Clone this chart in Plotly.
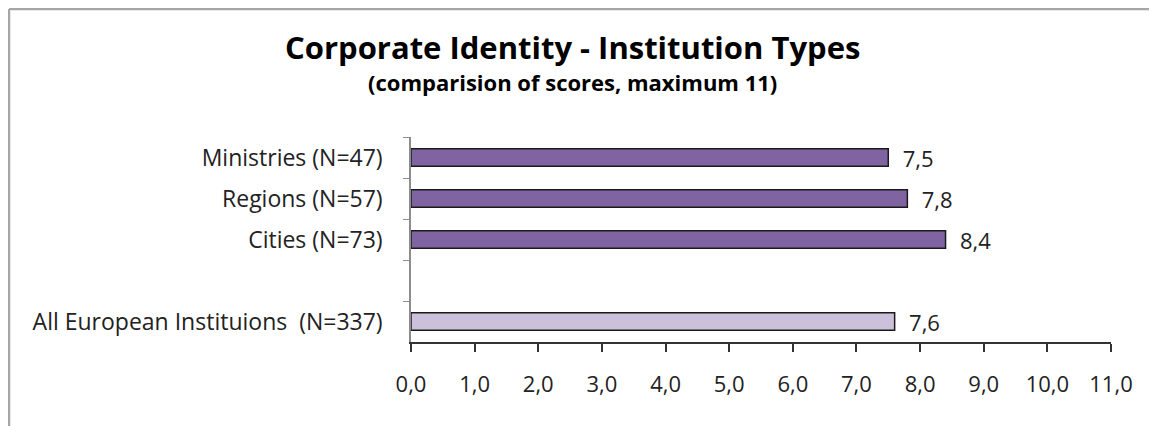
import plotly.graph_objects as go

# data
categories = ["Ministries (N=47)", "Regions (N=57)", "Cities (N=73)", " ", "All European Instituions  (N=337)"]
scores = [7.5, 7.8, 8.4, None, 7.6]
bar_colors = ["#8064A2", "#8064A2", "#8064A2", "#8064A2", "#CCC1DA"]
x_ticks = list(range(0, 12))

FONT = "Open Sans, Calibri, sans-serif"

# page body has an 8px margin, so the figure is a bit smaller than the window
W, H = 1149, 418
L, R, T, B = 403, 46, 129, 84
PW, PH = W - L - R, H - T - B

fig = go.Figure()
fig.add_trace(go.Bar(
    x=scores,
    y=categories,
    orientation="h",
    width=0.43,
    marker=dict(color=bar_colors, line=dict(color="#1a1a1a", width=1.5)),
    texttemplate="  %{x:.1f}",
    textposition="outside",
    constraintext="none",
    textfont=dict(family=FONT, size=22, color="#222222"),
    cliponaxis=False,
    hoverinfo="skip",
))

fig.update_layout(
    width=W,
    height=H,
    separators=", ",
    plot_bgcolor="white",
    paper_bgcolor="white",
    showlegend=False,
    margin={'l': L, 'r': R, 't': T, 'b': B},
    font=dict(family=FONT, size=22, color="#222222"),
)

fig.update_xaxes(
    range=[0, 11],
    tickvals=x_ticks,
    tickformat=".1f",
    showgrid=False,
    zeroline=False,
    showline=True,
    linecolor="#333333",
    linewidth=1.5,
    ticks="outside",
    ticklen=8,
    tickcolor="#333333",
    tickwidth=1.5,
    ticklabelstandoff=14,
    tickfont=dict(family=FONT, size=22, color="#222222"),
)

fig.update_yaxes(
    type="category",
    categoryorder="array",
    categoryarray=categories,
    autorange="reversed",
    tickson="boundaries",
    showgrid=False,
    showline=True,
    linecolor="#8c8c8c",
    linewidth=1.5,
    ticks="outside",
    ticklen=6,
    tickcolor="#8c8c8c",
    ticklabelstandoff=22,
    tickfont=dict(family=FONT, size=23, color="#222222"),
)

# titles
fig.add_annotation(
    text="<b>Corporate Identity - Institution Types</b>",
    xref="paper", yref="paper", x=0.231, y=1.0,
    xanchor="center", yanchor="middle", yshift=90,
    showarrow=False,
    font=dict(family=FONT, size=31, color="#000000"),
)
fig.add_annotation(
    text="<b>(comparision of scores, maximum 11)</b>",
    xref="paper", yref="paper", x=0.231, y=1.0,
    xanchor="center", yanchor="middle", yshift=55,
    showarrow=False,
    font=dict(family=FONT, size=22, color="#000000"),
)

# outer chart-area border (gray, top and left visible)
top = 1 + (T - 1) / PH
left = -(L - 1) / PW
fig.add_shape(type="line", xref="paper", yref="paper",
              x0=left, x1=1.2, y0=top, y1=top,
              line=dict(color="#a6a6a6", width=2.5))
fig.add_shape(type="line", xref="paper", yref="paper",
              x0=left, x1=left, y0=top, y1=-1,
              line=dict(color="#a6a6a6", width=2.5))

fig.write_html("out.html")
